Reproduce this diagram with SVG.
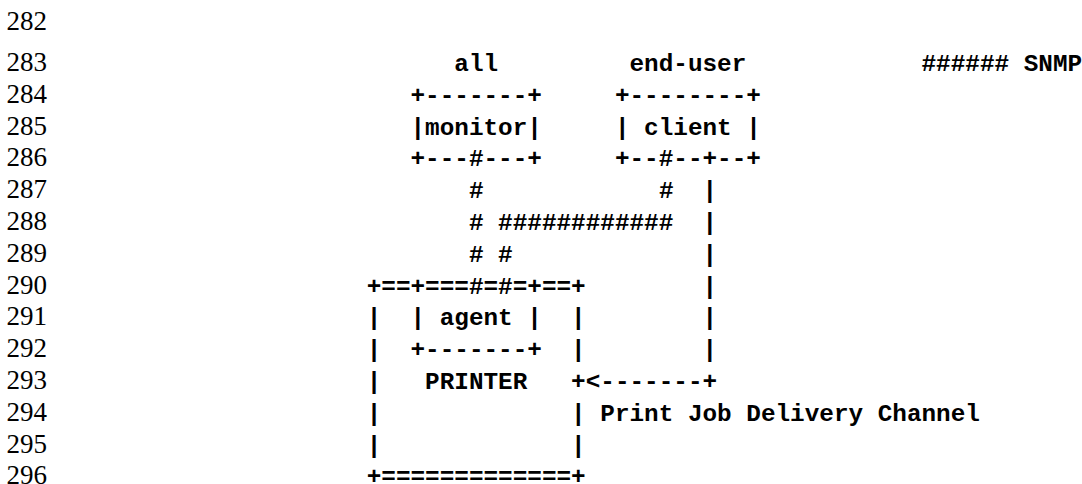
<svg xmlns="http://www.w3.org/2000/svg" width="1082" height="484" viewBox="0 0 1082 484">
  <style>
    .num { font-family: "Liberation Serif", "Times New Roman", serif; font-size: 27px; fill: #000; }
    .tt { font-family: "Liberation Mono", "Courier New", monospace; font-size: 24.33px; font-weight: bold; fill: #000; white-space: pre; }
  </style>
  <rect width="1082" height="484" fill="#fff"/>

  <!-- line numbers -->
  <g id="line-numbers" class="num">
    <text x="6.5" y="29.5">282</text>
    <text x="6.5" y="71">283</text>
    <text x="6.5" y="102.8">284</text>
    <text x="6.5" y="134.6">285</text>
    <text x="6.5" y="166.4">286</text>
    <text x="6.5" y="198.2">287</text>
    <text x="6.5" y="230">288</text>
    <text x="6.5" y="261.8">289</text>
    <text x="6.5" y="293.6">290</text>
    <text x="6.5" y="325.4">291</text>
    <text x="6.5" y="357.2">292</text>
    <text x="6.5" y="389">293</text>
    <text x="6.5" y="420.8">294</text>
    <text x="6.5" y="452.6">295</text>
    <text x="6.5" y="484.4">296</text>
  </g>

  <!-- monitor application (all) -->
  <g id="monitor" class="tt">
    <text x="454.3" y="71">all</text>
    <text x="410.5" y="102.8">+-------+</text>
    <text x="410.5" y="134.6">|monitor|</text>
    <text x="410.5" y="166.4">+---#---+</text>
  </g>

  <!-- client application (end-user) -->
  <g id="client" class="tt">
    <text x="629.5" y="71">end-user</text>
    <text x="614.9" y="102.8">+--------+</text>
    <text x="614.9" y="134.6">| client |</text>
    <text x="614.9" y="166.4">+--#--+--+</text>
  </g>

  <!-- printer frame -->
  <g id="printer" class="tt">
    <text x="366.7" y="293.6">+==+===#=#=+==+</text>
    <text x="366.7" y="325.4">|</text><text x="571.1" y="325.4">|</text>
    <text x="366.7" y="357.2">|</text><text x="571.1" y="357.2">|</text>
    <text x="366.7" y="389">|</text><text x="425.1" y="389">PRINTER</text><text x="571.1" y="389">+</text>
    <text x="366.7" y="420.8">|</text><text x="571.1" y="420.8">|</text>
    <text x="366.7" y="452.6">|</text><text x="571.1" y="452.6">|</text>
    <text x="366.7" y="484.4">+=============+</text>
  </g>

  <!-- agent inside the printer -->
  <g id="agent" class="tt">
    <text x="410.5" y="325.4">| agent |</text>
    <text x="410.5" y="357.2">+-------+</text>
  </g>

  <!-- connectors: SNMP paths and print job channel -->
  <g id="connectors" class="tt">
    <text x="468.9" y="198.2">#</text>
    <text x="468.9" y="230">#</text>
    <text x="468.9" y="261.8">#</text>
    <text x="498.1" y="261.8">#</text>
    <text x="658.9" y="198.2">#</text>
    <text x="498.1" y="230">############</text>

    <text x="702.5" y="198.2">|</text>
    <text x="702.5" y="230">|</text>
    <text x="702.5" y="261.8">|</text>
    <text x="702.5" y="293.6">|</text>
    <text x="702.5" y="325.4">|</text>
    <text x="702.5" y="357.2">|</text>
    <text x="585.7" y="389">&lt;-------+</text>
  </g>

  <!-- labels -->
  <g id="labels" class="tt">
    <text x="600.3" y="420.8">Print Job Delivery Channel</text>
    <text x="921.5" y="71">###### SNMP</text>
  </g>
</svg>
